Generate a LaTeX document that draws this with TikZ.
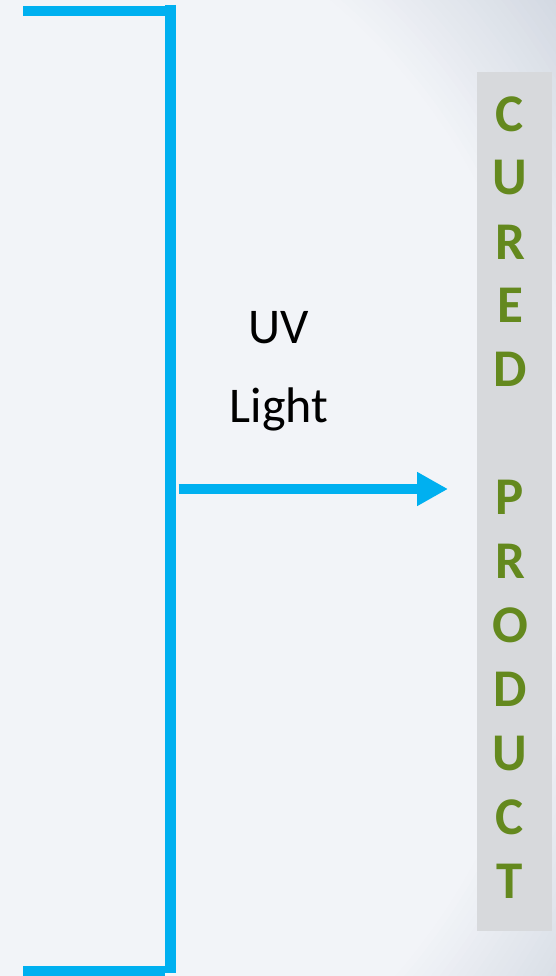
\documentclass[tikz,border=0pt]{standalone}
\usepackage{fontspec}
\setmainfont{Carlito}
\usetikzlibrary{arrows.meta}

\definecolor{bgbase}{HTML}{F2F4F8}
\definecolor{bgedge}{HTML}{D3D9E2}
\definecolor{uvblue}{HTML}{00B0F0}
\definecolor{boxgray}{HTML}{D7D9DC}
\definecolor{curegreen}{HTML}{64891E}

\tikzset{
  bracket/.style={draw=uvblue, line width=10.5pt},
  uvarrow/.style={draw=uvblue, line width=10pt, -{Triangle[length=31pt,width=32pt]}},
  cureletter/.style={text=curegreen, font=\fontsize{53}{64}\selectfont\bfseries, inner sep=0pt}
}

\begin{document}
\begin{tikzpicture}[x=1pt, y=-1pt]
    % Background
    \fill[bgedge] (0,0) rectangle (556,976);
    \begin{scope}
        \clip (0,0) rectangle (556,976);
        \foreach \k in {0,...,25}
            \fill[bgbase!\the\numexpr\k*4\relax!bgedge]
                (0,520) ellipse [x radius={720-\k*6.4}, y radius={1.15*(720-\k*6.4)}];
    \end{scope}
    \useasboundingbox (0,0) rectangle (556,976);

    \coordinate (T1) at (23,11);
    \coordinate (T2) at (165,11);
    \coordinate (V1) at (170.5,5);
    \coordinate (V2) at (170.5,973);
    \coordinate (B1) at (23,971);
    \coordinate (B2) at (165,971);
    \coordinate (S) at (178.5,489);
    \coordinate (E) at (448,489);

    % Draw the bracket
    \draw[bracket] (T1) -- (T2);
    \draw[bracket] (V1) -- (V2);
    \draw[bracket] (B1) -- (B2);

    % Draw the arrow
    \draw[uvarrow] (S) -- (E);

    % Label the arrow
    \node[align=center, inner sep=0pt, anchor=north,
          font=\fontsize{50}{79}\selectfont] (uv) at (279,311.5) {UV\\Light};

    % Product box
    \fill[boxgray] (477,72) rectangle (552,931);
    \foreach \ch [count=\i from 0] in {C,U,R,E,D,{},P,R,O,D,U,C,T}
        \node[cureletter] (ch\i) at (510,{114+\i*63.92}) {\ch};
\end{tikzpicture}
\end{document}
